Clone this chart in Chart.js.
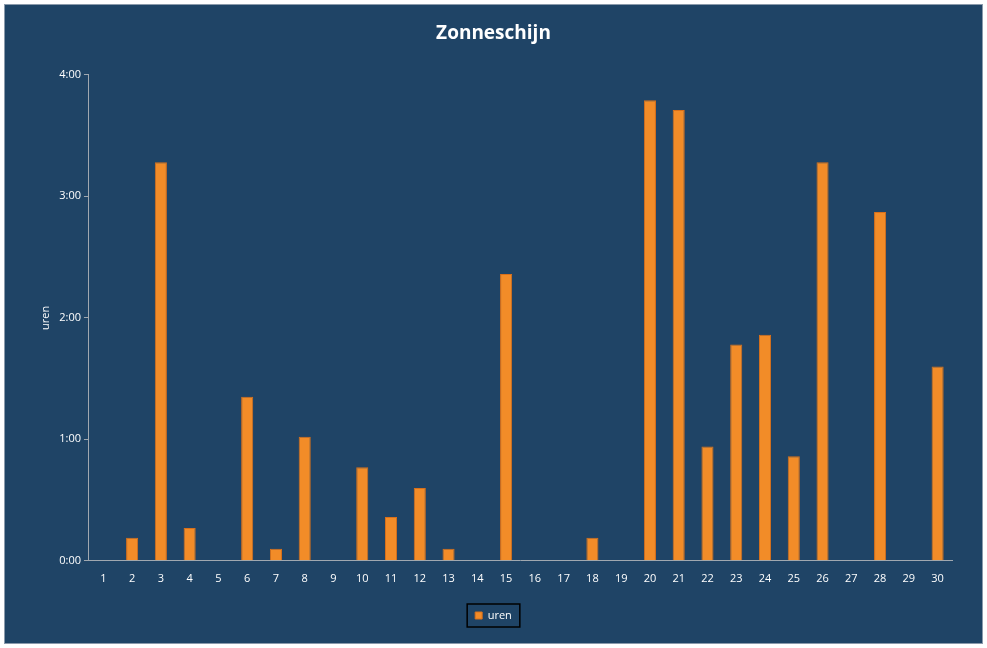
<!DOCTYPE html>
<html><head><meta charset="utf-8">
<script src="https://cdn.jsdelivr.net/npm/chart.js@4/dist/chart.umd.min.js"></script>
<style>
html,body{margin:0;padding:0;background:#fff;}
#wrap{position:absolute;left:4px;top:4px;width:977px;height:638px;background:#1F4466;border:1px solid #8a9aab;}
</style></head><body>
<div id="wrap"><canvas id="c" width="977" height="638"></canvas></div>
<script>
const categories=["1","2","3","4","5","6","7","8","9","10","11","12","13","14","15","16","17","18","19","20","21","22","23","24","25","26","27","28","29","30"];
const uren=[0,0.19,3.28,0.27,0,1.35,0.1,1.02,0,0.77,0.36,0.6,0.1,0,2.36,0,0,0.19,0,3.79,3.71,0.94,1.78,1.86,0.86,3.28,0,2.87,0,1.6];
const yTicks=["0:00","1:00","2:00","3:00","4:00"];
const legendBox={id:'legendBox',afterDraw(ch){const l=ch.legend;if(!l||!l.legendHitBoxes.length)return;const b=l.legendHitBoxes[0];const c=ch.ctx;c.save();c.strokeStyle='#000';c.lineWidth=1.5;c.strokeRect(b.left-8,b.top-6,b.width+16,b.height+12);c.restore();}};
new Chart(document.getElementById('c'),{
type:'bar',
data:{labels:categories,datasets:[{label:'uren',data:uren,backgroundColor:'#F28C28',borderColor:'#D9701A',borderWidth:1,barPercentage:0.42,categoryPercentage:1}]},
options:{responsive:false,animation:false,
layout:{padding:{left:30,right:30,top:5,bottom:12}},
plugins:{title:{display:true,text:'Zonneschijn',color:'#fff',font:{family:'Open Sans',size:19,weight:'bold'},padding:{top:12,bottom:30}},
legend:{position:'bottom',labels:{color:'#fff',boxWidth:7,boxHeight:7,font:{family:'Open Sans',size:11},padding:22}},tooltip:{enabled:false}},
scales:{
x:{grid:{display:false},border:{color:'#a0a8b0'},ticks:{color:'#fff',font:{family:'Open Sans',size:11}}},
y:{min:0,max:4,grid:{display:true,drawOnChartArea:false,tickLength:5,color:'#a0a8b0'},border:{color:'#a0a8b0',dash:[2,2]},
title:{display:true,text:'uren',color:'#fff',font:{family:'Open Sans',size:11}},
ticks:{stepSize:1,color:'#fff',font:{family:'Open Sans',size:11},callback:(v)=>yTicks[v]}}}
},plugins:[legendBox]});
</script></body></html>
